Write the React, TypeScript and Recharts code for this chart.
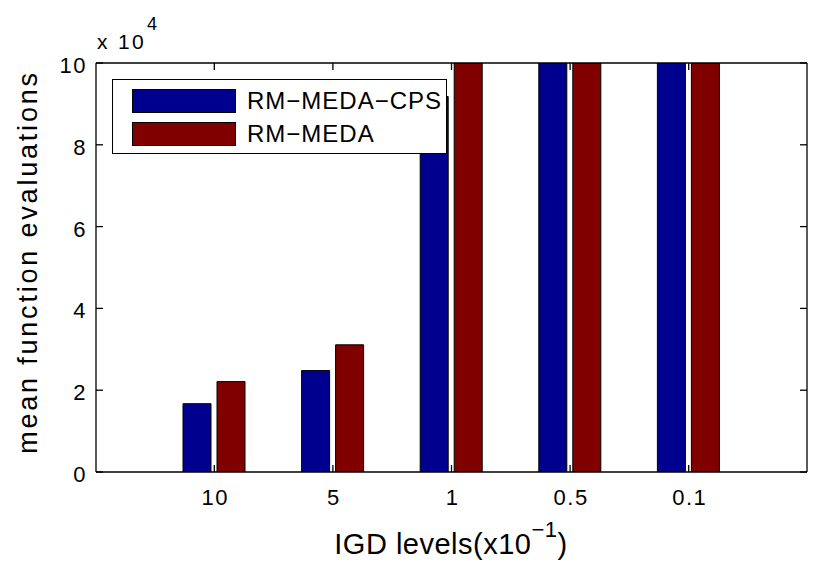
import React from 'react';
import { BarChart, Bar, XAxis, YAxis, Legend } from 'recharts';

const categories = ['10', '5', '1', '0.5', '0.1'];
const cpsValues = [16700, 24800, 91800, 100000, 100000];
const medaValues = [22100, 31100, 100000, 100000, 100000];
const yTicks = [0, 20000, 40000, 60000, 80000, 100000];
const seriesNames = ['RM−MEDA−CPS', 'RM−MEDA'];
const seriesKeys = ['cps', 'meda'];
const seriesColors = ['#00008F', '#800000'];

const data = categories.map((c, i) => ({ level: c, cps: cpsValues[i], meda: medaValues[i] }));

const FONT = '"Liberation Sans", Arial, Helvetica, sans-serif';
const X_MARGIN = 33;
const Y_MARGIN = 10;
const TICK_LEN = 7;
const LINE = { stroke: '#000', strokeWidth: 1.3 };

const XTick = (props: any) => {
  const { x, y, payload } = props;
  const axisY = y - X_MARGIN;
  return (
    <g>
      <line x1={x} x2={x} y1={axisY} y2={axisY - TICK_LEN} {...LINE} />
      <text x={x + 1} y={y} textAnchor="middle" fontSize={22} fontFamily={FONT} fill="#000" letterSpacing={1.5}>
        {payload.value}
      </text>
    </g>
  );
};

const YTick = (props: any) => {
  const { x, y, payload } = props;
  const axisX = x + Y_MARGIN;
  return (
    <g>
      <line x1={axisX} x2={axisX + TICK_LEN} y1={y} y2={y} {...LINE} />
      <text x={x + 1} y={y} dy={10} textAnchor="end" fontSize={22} fontFamily={FONT} fill="#000" letterSpacing={1.5}>
        {payload.value / 10000}
      </text>
    </g>
  );
};

const Empty = () => <g />;

const LegendBox = () => (
  <div
    style={{
      position: 'relative',
      width: 335,
      height: 75,
      background: '#fff',
      border: '1.3px solid #000',
      boxSizing: 'border-box',
      fontFamily: FONT,
    }}
  >
    {seriesNames.map((name, i) => (
      <div key={name} style={{ position: 'absolute', left: 19, top: 8 + i * 33, height: 25, display: 'flex', alignItems: 'center' }}>
        <div style={{ width: 104, height: 24, background: seriesColors[i], border: '1px solid #000', boxSizing: 'border-box' }} />
        <span style={{ marginLeft: 11, fontSize: 24, letterSpacing: 1, lineHeight: '25px', color: '#000', whiteSpace: 'nowrap' }}>{name}</span>
      </div>
    ))}
  </div>
);

export default function App() {
  return (
    <div style={{ position: 'relative', width: 822, height: 554, background: '#fff' }}>
      <BarChart
        width={822}
        height={554}
        data={data}
        margin={{ top: 55, right: 23, left: 0, bottom: 0 }}
        barSize={28}
        barGap={6}
      >
        <XAxis
          dataKey="level"
          xAxisId="bottom"
          orientation="bottom"
          height={90}
          padding={{ left: 59, right: 59 }}
          axisLine={LINE}
          tickLine={false}
          tickSize={0}
          tickMargin={X_MARGIN}
          tick={<XTick />}
          interval={0}
          label={{
            content: () => (
              <text x={443} y={546} textAnchor="middle" fontSize={29} fontFamily={FONT} fill="#000" letterSpacing={0.5}>
                IGD levels(x10
                <tspan fontSize={22} dy={-17}>−1</tspan>
                <tspan dy={17}>)</tspan>
              </text>
            ),
          }}
        />
        <XAxis
          dataKey="level"
          xAxisId="top"
          orientation="top"
          height={1}
          padding={{ left: 59, right: 59 }}
          axisLine={LINE}
          tickLine={LINE}
          tickSize={TICK_LEN}
          mirror
          tick={<Empty />}
          interval={0}
        />
        <YAxis
          yAxisId="left"
          orientation="left"
          width={88}
          domain={[0, 100000]}
          ticks={yTicks}
          interval={0}
          allowDataOverflow
          axisLine={LINE}
          tickLine={false}
          tickSize={0}
          tickMargin={Y_MARGIN}
          tick={<YTick />}
          label={{
            content: () => (
              <g>
                <text
                  x={29}
                  y={254}
                  transform="rotate(-90, 29, 254)"
                  textAnchor="middle"
                  fontSize={27}
                  fontFamily={FONT}
                  fill="#000"
                  letterSpacing={2.8}
                >
                  mean function evaluations
                </text>
                <text x={89} y={41} fontSize={21} fontFamily={FONT} fill="#000" letterSpacing={2.3}>
                  x 10
                </text>
                <text x={139} y={22} fontSize={18} fontFamily={FONT} fill="#000">
                  4
                </text>
              </g>
            ),
          }}
        />
        <YAxis
          yAxisId="right"
          orientation="right"
          width={1}
          domain={[0, 100000]}
          ticks={yTicks}
          interval={0}
          allowDataOverflow
          axisLine={LINE}
          tickLine={LINE}
          tickSize={TICK_LEN}
          mirror
          tick={<Empty />}
        />
        <Legend
          layout="vertical"
          align="center"
          verticalAlign="middle"
          wrapperStyle={{ position: 'absolute', left: 104, top: 71, width: 335, height: 75 }}
          content={() => <LegendBox />}
        />
        {seriesKeys.map((k, i) => (
          <Bar
            key={k}
            dataKey={k}
            name={seriesNames[i]}
            xAxisId="bottom"
            yAxisId="left"
            fill={seriesColors[i]}
            stroke="#000"
            strokeWidth={1}
            isAnimationActive={false}
          />
        ))}
      </BarChart>
    </div>
  );
}
